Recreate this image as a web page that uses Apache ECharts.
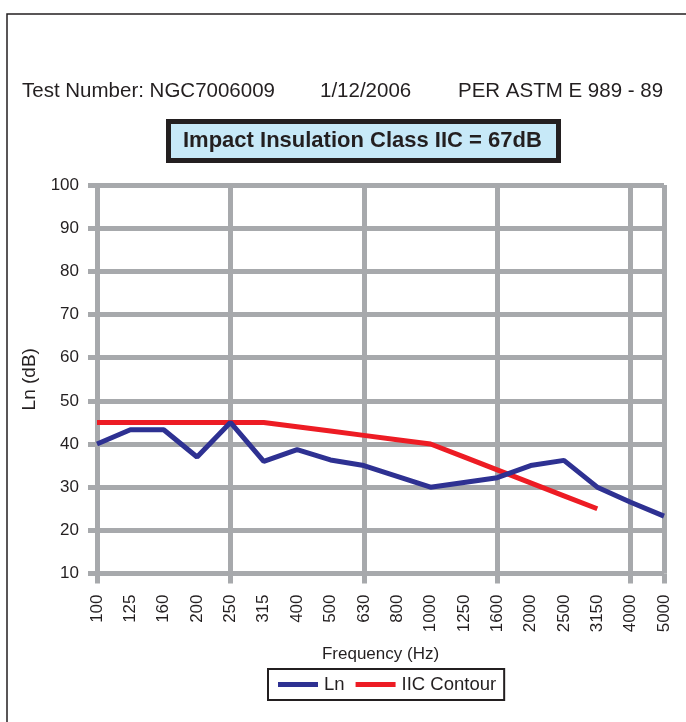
<!DOCTYPE html>
<html>
<head>
<meta charset="utf-8">
<script src="https://cdn.jsdelivr.net/npm/echarts@6/dist/echarts.min.js"></script>
<style>
  html, body { margin: 0; padding: 0; background: #ffffff; }
  #chart { width: 686px; height: 722px; }
</style>
</head>
<body>
<div id="chart"></div>
<script>
// ---- Data ----
const frequencies = ['100','125','160','200','250','315','400','500','630','800','1000','1250','1600','2000','2500','3150','4000','5000'];
const lnValues = [40, 43.3, 43.3, 37, 45, 36, 38.7, 36.3, 35, 32.5, 30, 31.1, 32.2, 35, 36.2, 30, 26.5, 23.3];
const iicContour = [45, 45, 45, 45, 45, 45, 44, 43, 42, 41, 40, 37, 34, 31, 28, 25, null, null];
const majorGridIndices = [0, 4, 8, 12, 16, 17];
const yTicks = { min: 10, max: 100, step: 10 };

const headerLeft = 'Test Number: NGC7006009';
const headerMid = '1/12/2006';
const headerRight = 'PER ASTM E 989 - 89';
const titleText = 'Impact Insulation Class IIC = 67dB';

const FONT = '"Liberation Sans", Arial, Helvetica, sans-serif';
const INK = '#231f20';
const GRID = '#a7a9ac';
const BLUE = '#2e3192';
const RED = '#ed1c24';

const chart = echarts.init(document.getElementById('chart'), null, { renderer: 'canvas' });
const isMajor = (i) => majorGridIndices.indexOf(i) !== -1;

chart.setOption({
  animation: false,
  backgroundColor: '#ffffff',
  textStyle: { fontFamily: FONT, color: INK },
  title: {
    text: titleText,
    left: 168,
    top: 121,
    padding: [9, 17, 9, 15],
    backgroundColor: '#c7e9f8',
    borderColor: INK,
    borderWidth: 5,
    textStyle: { fontFamily: FONT, fontSize: 22, fontWeight: 'bold', color: INK }
  },
  graphic: [
    { type: 'rect', silent: true, shape: { x: 7, y: 14, width: 720, height: 740 },
      style: { fill: 'none', stroke: INK, lineWidth: 1.5 } },
    { type: 'text', left: 22, top: 81, style: { text: headerLeft, font: '20.5px ' + FONT, fill: INK } },
    { type: 'text', left: 320, top: 81, style: { text: headerMid, font: '20.5px ' + FONT, fill: INK } },
    { type: 'text', left: 458, top: 81, style: { text: headerRight, font: '20.5px ' + FONT, fill: INK } }
  ],
  legend: {
    left: 268,
    top: 669,
    padding: [6, 8, 6, 10],
    borderColor: INK,
    borderWidth: 2,
    itemGap: 11,
    itemWidth: 40,
    itemHeight: 5,
    icon: 'rect',
    textStyle: { fontFamily: FONT, fontSize: 18.5, color: INK, padding: [0, 0, 0, 1] },
    data: ['Ln', 'IIC Contour']
  },
  grid: { left: 97, right: 22, top: 185, bottom: 148.5, containLabel: false },
  xAxis: {
    type: 'category',
    data: frequencies,
    boundaryGap: false,
    name: 'Frequency (Hz)',
    nameLocation: 'middle',
    nameGap: 72,
    nameTextStyle: { fontFamily: FONT, fontSize: 17, color: INK },
    axisLine: { show: false },
    axisTick: { show: true, length: 10, interval: (i) => isMajor(i), lineStyle: { color: GRID, width: 5 } },
    axisLabel: { rotate: 90, interval: 0, margin: 21, fontSize: 17, color: INK, fontFamily: FONT },
    splitLine: { show: true, interval: (i) => isMajor(i), lineStyle: { color: GRID, width: 5 } }
  },
  yAxis: {
    type: 'value',
    min: yTicks.min,
    max: yTicks.max,
    interval: yTicks.step,
    name: 'Ln (dB)',
    nameLocation: 'middle',
    nameGap: 54,
    nameTextStyle: { fontFamily: FONT, fontSize: 19, color: INK },
    axisLine: { show: false },
    axisTick: { show: true, length: 9, lineStyle: { color: GRID, width: 5 } },
    axisLabel: { margin: 18, fontSize: 17, color: INK, fontFamily: FONT },
    splitLine: { show: true, lineStyle: { color: GRID, width: 5 } }
  },
  series: [
    { name: 'Ln', type: 'line', data: lnValues, symbol: 'none', color: BLUE,
      lineStyle: { color: BLUE, width: 5 }, z: 3 },
    { name: 'IIC Contour', type: 'line', data: iicContour, symbol: 'none', color: RED,
      lineStyle: { color: RED, width: 5 }, z: 2 }
  ]
});
</script>
</body>
</html>
